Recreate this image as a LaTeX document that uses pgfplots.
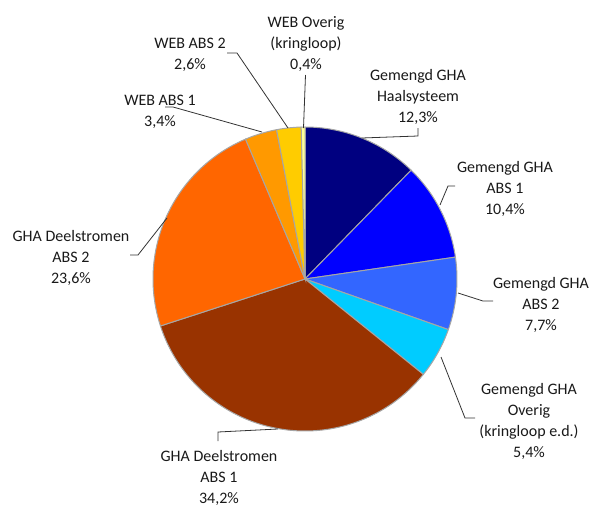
\documentclass[border=0pt]{standalone}
\usepackage{pgfplots}
\pgfplotsset{compat=1.18}
\usepackage{fontspec}
\setmainfont{Carlito}
\definecolor{c1}{HTML}{000080}
\definecolor{c2}{HTML}{0000FF}
\definecolor{c3}{HTML}{3366FF}
\definecolor{c4}{HTML}{00CCFF}
\definecolor{c5}{HTML}{993300}
\definecolor{c6}{HTML}{FF6600}
\definecolor{c7}{HTML}{FF9900}
\definecolor{c8}{HTML}{FFCC00}
\definecolor{c9}{HTML}{FFFF99}
\definecolor{edge}{HTML}{A6A6A6}
\begin{document}
\begin{tikzpicture}[every node/.style={font=\fontsize{16}{21}\selectfont,align=center,text=black!90,inner sep=0pt}]
\begin{axis}[width=590pt,height=506pt,scale only axis,hide axis,
  xmin=0,xmax=590,ymin=0,ymax=506,y dir=reverse,clip=false]
\xdef\cum{0}
\foreach \v/\c in {12.3/c1,10.4/c2,7.7/c3,5.4/c4,34.2/c5,23.6/c6,3.4/c7,2.6/c8,0.4/c9}{
  \pgfmathsetmacro\a{\cum}
  \pgfmathsetmacro\b{\cum+\v}
  \edef\temp{\noexpand\addplot[draw=edge,line width=1pt,fill=\c,domain=\a:\b,samples=90,variable=\noexpand\t]
    ({305+152*cos(90-3.6*\noexpand\t)},{279-152*sin(90-3.6*\noexpand\t)}) -- (axis cs:305,279) -- cycle;}
  \temp
  \xdef\cum{\b}
}
% leader lines
\draw[black!80,line width=0.8pt] (axis cs:303.5,128) -- (axis cs:305.5,75);
\draw[black!80,line width=0.8pt] (axis cs:288,128) -- (axis cs:237,53) -- (axis cs:227,53);
\draw[black!80,line width=0.8pt] (axis cs:262,132) -- (axis cs:173,107) -- (axis cs:165,107);
\draw[black!80,line width=0.8pt] (axis cs:362,138) -- (axis cs:418,136) -- (axis cs:418,128);
\draw[black!80,line width=0.8pt] (axis cs:440,205) -- (axis cs:448,186) -- (axis cs:455,186);
\draw[black!80,line width=0.8pt] (axis cs:458,293) -- (axis cs:483,301) -- (axis cs:493,301);
\draw[black!80,line width=0.8pt] (axis cs:441,357) -- (axis cs:465,418) -- (axis cs:475,418);
\draw[black!80,line width=0.8pt] (axis cs:167,218) -- (axis cs:138,255) -- (axis cs:130,255);
\draw[black!80,line width=0.8pt] (axis cs:278,429) -- (axis cs:218,432) -- (axis cs:218,441);
% labels
\node at (axis cs:306,44) {WEB Overig\\(kringloop)\\0,4\%};
\node at (axis cs:190,55) {WEB ABS 2\\2,6\%};
\node at (axis cs:160,112) {WEB ABS 1\\3,4\%};
\node at (axis cs:418,97) {Gemengd GHA\\Haalsysteem\\12,3\%};
\node at (axis cs:505,189) {Gemengd GHA\\ABS 1\\10,4\%};
\node at (axis cs:541,305) {Gemengd GHA\\ABS 2\\7,7\%};
\node at (axis cs:529,421) {Gemengd GHA\\Overig\\(kringloop e.d.)\\5,4\%};
\node at (axis cs:71,258) {GHA Deelstromen\\ABS 2\\23,6\%};
\node at (axis cs:219,478) {GHA Deelstromen\\ABS 1\\34,2\%};
\end{axis}
\pgfresetboundingbox
\path (current axis.south west) rectangle (current axis.north east);
\end{tikzpicture}
\end{document}
